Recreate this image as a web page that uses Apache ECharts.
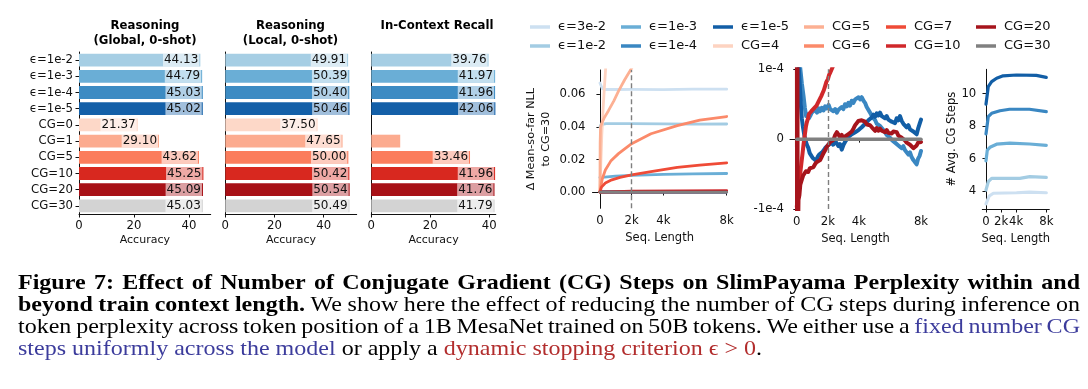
<!DOCTYPE html>
<html><head><meta charset="utf-8">
<script src="https://cdn.jsdelivr.net/npm/echarts@6/dist/echarts.min.js"></script>
<style>html,body{margin:0;padding:0;background:#fff}#c{width:1088px;height:389px}</style>
</head><body><div id="c"></div>
<script>
// ---------------- DATA ----------------
const categories = ['ϵ=1e-2','ϵ=1e-3','ϵ=1e-4','ϵ=1e-5','CG=0','CG=1','CG=5','CG=10','CG=20','CG=30'];
const barColors = ['#a6cee4','#6aaed6','#3c8bc3','#1460a8','#fdd8c8','#fcab8f','#fb7d5d','#d8281f','#a81117','#d3d3d3'];
const globalAcc = [44.13,44.79,45.03,45.02,21.37,29.10,43.62,45.25,45.09,45.03];
const localAcc  = [49.91,50.39,50.40,50.46,37.50,47.65,50.00,50.42,50.54,50.49];
const recallAcc = [39.76,41.97,41.96,42.06,null,9.8,33.46,41.96,41.76,41.79];
const recallUnlabeled = [4,5];
const barTitles = [['Reasoning','(Global, 0-shot)'],['Reasoning','(Local, 0-shot)'],['In-Context Recall']];
const accTicks = [0,20,40];

const seqTicks = [0,2048,4096,8192];
const seqTickLabels = ['0','2k','4k','8k'];

// Δ mean-so-far NLL to CG=30  [token position, value]
const nll_eps3e2 = [[0,0.067],[60,0.066],[150,0.0636],[400,0.063],[1000,0.063],[2048,0.0631],[4096,0.0629],[6000,0.0632],[8192,0.0632]];
const nll_eps1e2 = [[0,0.040],[80,0.0415],[400,0.042],[2048,0.042],[4096,0.0419],[6000,0.0417],[8192,0.0418]];
const nll_eps1e3 = [[0,0.009],[300,0.0092],[1000,0.0098],[2048,0.0102],[4096,0.0108],[6000,0.0112],[8192,0.0114]];
const nll_eps1e4 = [[0,0.0003],[2048,0.0001],[8192,0.0001]];
const nll_eps1e5 = [[0,0.0],[8192,0.0]];
const nll_cg4 = [[0,0],[50,0.015],[120,0.035],[200,0.05],[280,0.063],[370,0.076],[420,0.082]];
const nll_cg5 = [[0,0],[15,0.03],[40,0.040],[150,0.043],[300,0.046],[550,0.050],[900,0.056],[1200,0.062],[1600,0.069],[1950,0.0745],[2100,0.077]];
const nll_cg6 = [[0,0],[150,0.008],[350,0.0135],[700,0.019],[1200,0.0236],[2048,0.0297],[3300,0.0358],[5000,0.0408],[6450,0.0442],[8192,0.0464]];
const nll_cg7 = [[0,0],[100,0.003],[350,0.0055],[770,0.0075],[1300,0.009],[2048,0.0105],[3300,0.0125],[5000,0.0151],[6450,0.0165],[8192,0.0179]];
const nll_cg10 = [[0,0],[2048,0.0005],[8192,0.0009]];
const nll_cg20 = [[0,0],[8192,0.0001]];
const nll_cg30 = [[0,0],[8192,0]];
const nllTicks = [0,0.02,0.04,0.06];

// Zoomed Δ NLL, values in units of 1e-4
const zm_eps1e4 = [[220,1.03],[330,0.80],[440,0.62],[530,0.45],[615,0.33],[700,0.36],[800,0.30],[878,0.33],[980,0.38],[1098,0.36],[1200,0.42],[1330,0.38],[1450,0.44],[1537,0.40],[1650,0.45],[1760,0.41],[1870,0.47],[1976,0.44],[2100,0.49],[2200,0.43],[2300,0.45],[2416,0.40],[2530,0.43],[2640,0.38],[2750,0.42],[2855,0.40],[2960,0.46],[3070,0.43],[3180,0.50],[3294,0.47],[3400,0.52],[3510,0.48],[3620,0.55],[3733,0.52],[3850,0.57],[3960,0.55],[4070,0.60],[4172,0.57],[4280,0.60],[4400,0.55],[4502,0.52],[4610,0.46],[4720,0.44],[4831,0.38],[4950,0.33],[5060,0.30],[5170,0.27],[5270,0.22],[5380,0.24],[5490,0.19],[5600,0.20],[5710,0.13],[5820,0.10],[5930,0.06],[6040,0.07],[6149,0.02],[6260,-0.01],[6370,0.01],[6480,-0.05],[6588,-0.04],[6700,-0.09],[6810,-0.07],[6920,-0.13],[7027,-0.10],[7140,-0.16],[7250,-0.14],[7360,-0.22],[7466,-0.19],[7580,-0.26],[7690,-0.30],[7800,-0.33],[7906,-0.36],[8000,-0.28],[8100,-0.24],[8192,-0.17]];
const zm_eps1e5 = [[110,1.1],[200,0.75],[280,0.45],[330,0.30],[400,0.18],[500,0.05],[580,-0.02],[659,-0.08],[750,-0.12],[850,-0.20],[950,-0.22],[1050,-0.27],[1150,-0.26],[1274,-0.31],[1380,-0.25],[1480,-0.22],[1600,-0.24],[1700,-0.18],[1800,-0.15],[1900,-0.12],[2000,-0.14],[2100,-0.08],[2196,-0.10],[2300,-0.05],[2400,-0.08],[2500,-0.02],[2635,-0.06],[2750,-0.10],[2850,-0.07],[2965,-0.15],[3080,-0.08],[3180,-0.04],[3294,-0.02],[3400,0.03],[3520,0.01],[3620,0.07],[3733,0.05],[3850,0.10],[3960,0.08],[4070,0.13],[4172,0.12],[4280,0.17],[4400,0.16],[4510,0.22],[4612,0.21],[4720,0.27],[4830,0.26],[4940,0.31],[5051,0.35],[5160,0.32],[5270,0.37],[5380,0.34],[5490,0.38],[5600,0.33],[5710,0.35],[5820,0.30],[5929,0.33],[6040,0.28],[6150,0.30],[6260,0.25],[6368,0.27],[6480,0.23],[6590,0.30],[6700,0.27],[6808,0.33],[6920,0.26],[7030,0.22],[7140,0.24],[7247,0.17],[7360,0.20],[7466,0.14],[7580,0.16],[7686,0.11],[7800,0.09],[7906,0.07],[8000,0.15],[8100,0.22],[8192,0.28]];
const zm_cg10 = [[0,-0.97],[60,-0.8],[120,-0.72],[220,-0.50],[300,-0.35],[380,-0.20],[440,-0.08],[520,0.05],[600,0.18],[659,0.24],[740,0.30],[800,0.36],[878,0.38],[960,0.40],[1050,0.39],[1130,0.44],[1208,0.43],[1300,0.48],[1400,0.50],[1480,0.56],[1537,0.57],[1620,0.62],[1700,0.66],[1780,0.70],[1867,0.76],[1950,0.82],[2050,0.86],[2130,0.92],[2196,0.95],[2300,1.0],[2416,1.06]];
const zm_cg20 = [[0,3],[20,-3],[40,2],[60,-3],[90,-1.2],[110,-0.87],[170,-0.80],[230,-0.65],[330,-0.58],[420,-0.52],[520,-0.50],[600,-0.46],[659,-0.44],[750,-0.47],[850,-0.42],[950,-0.40],[1098,-0.40],[1200,-0.36],[1300,-0.33],[1400,-0.34],[1537,-0.30],[1650,-0.25],[1760,-0.20],[1870,-0.16],[1976,-0.11],[2080,-0.08],[2200,-0.04],[2300,-0.06],[2416,-0.01],[2530,0.06],[2640,0.10],[2750,0.08],[2855,0.03],[2960,0.06],[3070,0.01],[3180,0.04],[3294,0.02],[3400,0.07],[3520,0.06],[3623,0.11],[3733,0.15],[3850,0.20],[3953,0.23],[4060,0.26],[4172,0.24],[4280,0.27],[4392,0.26],[4500,0.25],[4620,0.21],[4720,0.23],[4831,0.20],[4950,0.17],[5060,0.15],[5170,0.12],[5270,0.16],[5380,0.12],[5490,0.15],[5600,0.12],[5710,0.14],[5820,0.10],[5930,0.13],[6040,0.09],[6149,0.11],[6260,0.08],[6370,0.11],[6480,0.09],[6588,0.10],[6700,0.05],[6810,0.07],[6920,0.02],[7027,0.03],[7140,-0.02],[7250,-0.05],[7360,-0.03],[7466,-0.08],[7580,-0.10],[7690,-0.13],[7800,-0.14],[7906,-0.09],[8000,-0.05],[8100,-0.07],[8192,-0.04]];
const zm_cg30 = [[0,0],[8192,0]];
const zmTicks = [-1,0,1];
const zmTickLabels = ['-1e-4','0','1e-4'];

// Average CG steps
const steps_eps1e5 = [[0,9.35],[310,10.43],[770,10.74],[1444,10.95],[2335,11.1],[4143,11.15],[6842,11.13],[8192,11.0]];
const steps_eps1e4 = [[0,7.52],[310,8.58],[770,8.79],[1900,8.95],[3200,9.04],[5900,9.04],[8192,8.89]];
const steps_eps1e3 = [[0,5.86],[180,6.53],[540,6.70],[1444,6.89],[3240,6.95],[5940,6.9],[8192,6.82]];
const steps_eps1e2 = [[0,4.07],[310,4.58],[770,4.79],[2335,4.79],[4600,4.79],[5940,4.89],[8192,4.85]];
const steps_eps3e2 = [[0,3.21],[450,3.70],[1000,3.87],[4143,3.90],[5900,3.94],[8192,3.90]];
const stepTicks = [4,6,8,10];

const lineColors = {
  'ϵ=3e-2':'#cde0f1','ϵ=1e-2':'#a3cce3','ϵ=1e-3':'#6aaed6','ϵ=1e-4':'#3a87c2','ϵ=1e-5':'#125ea6',
  'CG=4':'#fdd3c1','CG=5':'#fcb093','CG=6':'#fb8a6a','CG=7':'#ef4b37','CG=10':'#d0282b','CG=20':'#a6141c','CG=30':'#808080'
};
const legendCols = [['ϵ=3e-2','ϵ=1e-2'],['ϵ=1e-3','ϵ=1e-4'],['ϵ=1e-5','CG=4'],['CG=5','CG=6'],['CG=7','CG=10'],['CG=20','CG=30']];

// ---------------- LAYOUT ----------------
const FONT = 'DejaVu Sans';
const AX = {lineStyle:{color:'#111',width:1}};
const grids = [
  {left:79, top:52, width:131.7, height:162},
  {left:225.3, top:52, width:131.4, height:162},
  {left:371.3, top:52, width:124.5, height:162},
  {left:592.5, top:70, width:134.2, height:138.3},
  {left:790, top:69.3, width:131, height:139.7},
  {left:982.3, top:69.3, width:67, height:139.7}
];
const barMax = [47.9, 53.4, 42.2];
const labelStyle = {fontFamily:FONT, fontSize:11.7, color:'#111'};

const xAxes = [], yAxes = [];
for (let i=0;i<3;i++){
  xAxes.push({gridIndex:i, type:'value', min:0, max:barMax[i], splitLine:{show:false}, axisLine:{show:true,...AX},
    axisTick:{show:true, length:3.5, customValues:accTicks, lineStyle:{color:'#111'}},
    axisLabel:{...labelStyle, margin:6, customValues:accTicks},
    name:'Accuracy', nameLocation:'middle', nameGap:21, nameTextStyle:{...labelStyle, fontSize:11}});
  yAxes.push({gridIndex:i, type:'category', inverse:true, data:categories, axisLine:{show:true,...AX},
    axisTick:{show:i===0, alignWithLabel:true, length:3.5, lineStyle:{color:'#111'}},
    axisLabel:{show:i===0, ...labelStyle, margin:6}});
}
// line charts
xAxes.push({gridIndex:3, type:'value', min:-480, max:8192});
xAxes.push({gridIndex:4, type:'value', min:-450, max:8192});
xAxes.push({gridIndex:5, type:'value', min:-500, max:8600});
for (let i=3;i<6;i++){
  Object.assign(xAxes[i], {splitLine:{show:false}, axisLine:{show:true,...AX},
    axisTick:{show:true,length:3.5,customValues:seqTicks,lineStyle:{color:'#111'}},
    axisLabel:{...labelStyle, margin:7, customValues:seqTicks, formatter:v=>seqTickLabels[seqTicks.indexOf(v)]},
    name:'Seq. Length', nameLocation:'middle', nameGap:24, nameTextStyle:{...labelStyle, fontSize:11.5}});
}
yAxes.push({gridIndex:3, type:'value', min:-0.01, max:0.075, splitLine:{show:false}, axisLine:{show:true,...AX},
  axisTick:{show:true,length:3.5,customValues:nllTicks,lineStyle:{color:'#111'}},
  axisLabel:{...labelStyle, margin:7, customValues:nllTicks, formatter:v=>v.toFixed(2)},
  name:'Δ Mean-so-far NLL\nto CG=30', nameLocation:'middle', nameGap:39, nameRotate:90,
  nameTextStyle:{...labelStyle, fontSize:11.2, lineHeight:15, align:'center'}});
yAxes.push({gridIndex:4, type:'value', min:-1, max:1, splitLine:{show:false}, axisLine:{show:true,...AX},
  axisTick:{show:true,length:3.5,customValues:zmTicks,lineStyle:{color:'#111'}},
  axisLabel:{...labelStyle, margin:6, customValues:zmTicks, formatter:v=>zmTickLabels[zmTicks.indexOf(v)]}});
yAxes.push({gridIndex:5, type:'value', min:2.9, max:11.5, splitLine:{show:false}, axisLine:{show:true,...AX},
  axisTick:{show:true,length:3.5,customValues:stepTicks,lineStyle:{color:'#111'}},
  axisLabel:{...labelStyle, margin:6, customValues:stepTicks},
  name:'# Avg. CG Steps', nameLocation:'middle', nameGap:24, nameRotate:90, nameTextStyle:{...labelStyle, fontSize:11.5}});

// ---------------- SERIES ----------------
function barSeries(i, values, hidden){
  return {type:'bar', name:'bars'+i, xAxisIndex:i, yAxisIndex:i, barCategoryGap:'21%', silent:true,
    data: values.map((v,k)=>{ const d={value:v, itemStyle:{color:barColors[k]}}; if(hidden.includes(k)) d.label={show:false}; return d; }),
    label:{show:true, position:'insideRight', distance:1, formatter:p=>p.value==null?'':Number(p.value).toFixed(2),
      ...labelStyle, fontSize:12, backgroundColor:'rgba(255,255,255,0.6)', padding:[1,1,0,1], lineHeight:12}};
}
function line(name, data, gi, width, z){
  return {type:'line', name, xAxisIndex:gi, yAxisIndex:gi, data, symbol:'none', showSymbol:false, clip:true, silent:true,
    color:lineColors[name], lineStyle:{color:lineColors[name], width, cap:'round', join:'round'}, z:z||2};
}
function vline(gi){
  return {type:'line', name:'ctx'+gi, xAxisIndex:gi, yAxisIndex:gi, data:[], silent:true, z:1,
    markLine:{silent:true, symbol:['none','none'], label:{show:false}, animation:false,
      lineStyle:{color:'#7f7f7f', type:[5,3], width:1.4}, data:[{xAxis:seqTicks[1]}]}};
}
const series = [
  barSeries(0, globalAcc, []), barSeries(1, localAcc, []), barSeries(2, recallAcc, recallUnlabeled),
  vline(3),
  line('ϵ=3e-2', nll_eps3e2, 3, 2.8), line('ϵ=1e-2', nll_eps1e2, 3, 2.8), line('ϵ=1e-3', nll_eps1e3, 3, 2.8),
  line('ϵ=1e-4', nll_eps1e4, 3, 2.8), line('ϵ=1e-5', nll_eps1e5, 3, 2.8),
  line('CG=4', nll_cg4, 3, 2.8), line('CG=5', nll_cg5, 3, 2.8), line('CG=6', nll_cg6, 3, 2.8), line('CG=7', nll_cg7, 3, 2.8),
  line('CG=10', nll_cg10, 3, 2.8), line('CG=20', nll_cg20, 3, 2.8), line('CG=30', nll_cg30, 3, 2.8),
  vline(4),
  line('ϵ=1e-4', zm_eps1e4, 4, 4), line('ϵ=1e-5', zm_eps1e5, 4, 4), line('CG=10', zm_cg10, 4, 4),
  line('CG=20', zm_cg20, 4, 4), line('CG=30', zm_cg30, 4, 3.5),
  line('ϵ=3e-2', steps_eps3e2, 5, 3.2), line('ϵ=1e-2', steps_eps1e2, 5, 3.2), line('ϵ=1e-3', steps_eps1e3, 5, 3.2),
  line('ϵ=1e-4', steps_eps1e4, 5, 3.2), line('ϵ=1e-5', steps_eps1e5, 5, 3.2)
];

const legendX = [530, 621, 713, 804, 886, 976];
const legends = legendCols.map((d,i)=>({data:d, orient:'vertical', left:legendX[i], top:20.5, padding:0,
  itemWidth:20, itemHeight:3.5, itemGap:6, icon:'rect', selectedMode:false,
  textStyle:{fontFamily:FONT, fontSize:13, color:'#111', padding:[0,0,0,3]}}));

// ---------------- TEXT (titles, caption) ----------------
const graphics = [];
const titleX = [145, 290.5, 437];
barTitles.forEach((t,i)=>t.forEach((s,k)=>graphics.push({type:'text', x:titleX[i], y:26+k*14.5, silent:true,
  style:{text:s, font:'bold 11.7px "DejaVu Sans"', fill:'#000', align:'center', verticalAlign:'middle'}})));

const CAP_FONT = '"Liberation Serif"';
const capSize = 22;
const capBlue = '#3c3c9c', capRed = '#b22d2d';
const captionLines = [
  {y:283, justify:true, segs:[{t:'Figure 7: Effect of Number of Conjugate Gradient (CG) Steps on SlimPayama Perplexity within and', b:true}]},
  {y:305, justify:true, segs:[{t:'beyond train context length.', b:true},{t:'We show here the effect of reducing the number of CG steps during inference on'}]},
  {y:327, justify:true, segs:[{t:'token perplexity across token position of a 1B MesaNet trained on 50B tokens. We either use a'},{t:'fixed number CG', c:capBlue}]},
  {y:349, justify:false, segs:[{t:'steps uniformly across the model', c:capBlue},{t:'or apply a'},{t:'dynamic stopping criterion ϵ > 0', c:capRed},{t:'.', glue:true}]}
];
const capLeft = 18, capRight = 1080, lastLineRight = 762;
const mctx = document.createElement('canvas').getContext('2d');
function fontOf(w){ return (w.b?'bold ':'')+capSize+'px '+CAP_FONT; }
function measure(t, f){ mctx.font = f; return mctx.measureText(t).width; }
function tokensOf(L){
  const words = [];
  L.segs.forEach(s=>s.t.split(' ').forEach((w,k)=>words.push({t:w, b:s.b, c:s.c, glue:s.glue && k===0})));
  const tokens = [];
  words.forEach(w=>{ if(w.glue && tokens.length) tokens[tokens.length-1].parts.push(w); else tokens.push({parts:[w]}); });
  tokens.forEach(tk=>{ tk.w = tk.parts.reduce((a,p)=>a+measure(p.t, fontOf(p)),0); });
  return tokens;
}
const spaceW = measure(' ', fontOf({}));
const lastTokens = tokensOf(captionLines[3]);
const lastNatural = lastTokens.reduce((a,t)=>a+t.w,0) + spaceW*(lastTokens.length-1);
const capScale = (lastLineRight-capLeft)/lastNatural;
captionLines.forEach(L=>{
  const tokens = tokensOf(L);
  const total = tokens.reduce((a,t)=>a+t.w,0);
  let s = capScale, gap = spaceW;
  if (L.justify){
    gap = ((capRight-capLeft)/s - total)/(tokens.length-1);
    if (gap < spaceW*0.6){ gap = spaceW*0.6; s = (capRight-capLeft)/(total+gap*(tokens.length-1)); }
  }
  let u = 0;
  tokens.forEach(tk=>{
    let uu = u;
    tk.parts.forEach(p=>{
      graphics.push({type:'text', x:capLeft+uu*s, y:L.y, scaleX:s, silent:true,
        style:{text:p.t, font:fontOf(p), fill:p.c||'#000', align:'left', verticalAlign:'middle'}});
      uu += measure(p.t, fontOf(p));
    });
    u += tk.w + gap;
  });
});

const chart = echarts.init(document.getElementById('c'), null, {renderer:'canvas'});
chart.setOption({
  animation:false, backgroundColor:'#fff',
  grid: grids, xAxis: xAxes, yAxis: yAxes, series, legend: legends, graphic: graphics
});
</script></body></html>
